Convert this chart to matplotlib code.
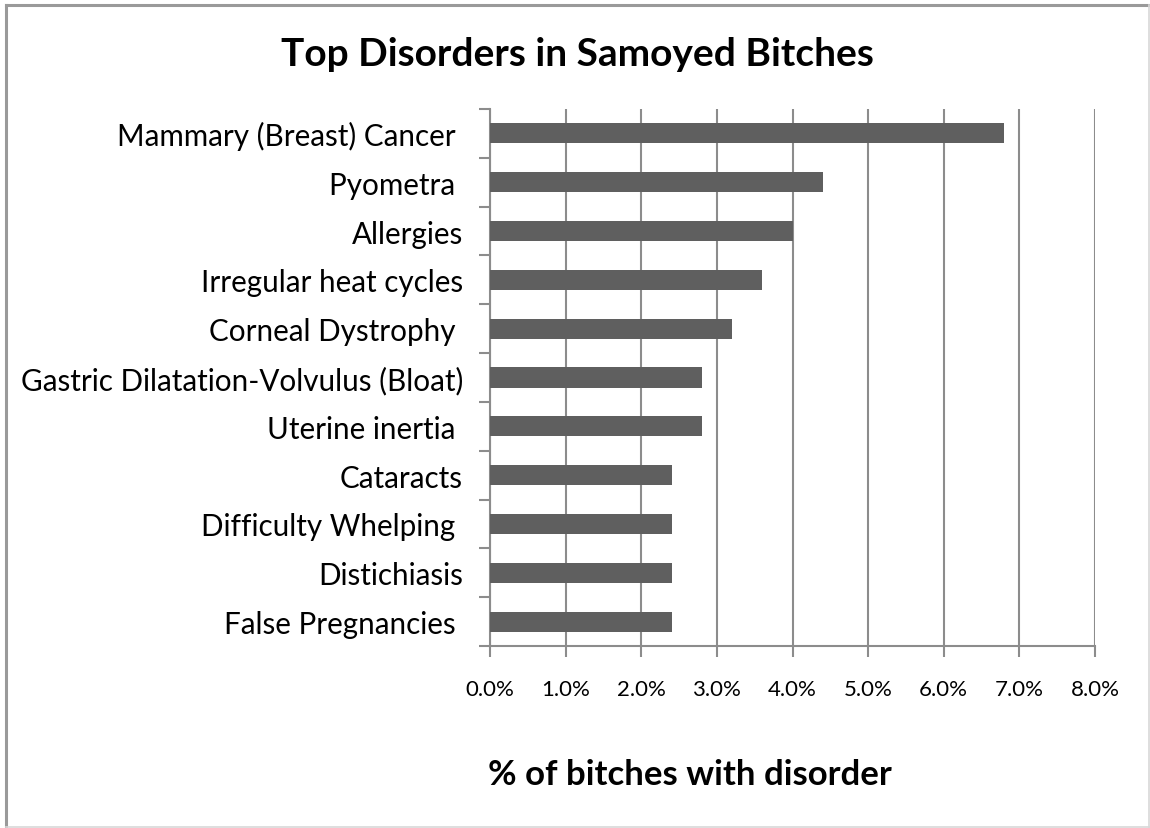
import numpy as np
import matplotlib.pyplot as plt
from matplotlib.lines import Line2D
from matplotlib.ticker import FuncFormatter, FixedLocator

plt.rcParams['font.family'] = ['Lato', 'DejaVu Sans']

# Datos (de arriba hacia abajo)
disorders = ['Mammary (Breast) Cancer ', 'Pyometra ', 'Allergies', 'Irregular heat cycles',
             'Corneal Dystrophy ', 'Gastric Dilatation-Volvulus (Bloat)', 'Uterine inertia ',
             'Cataracts', 'Difficulty Whelping ', 'Distichiasis', 'False Pregnancies ']
percent = [6.8, 4.4, 4.0, 3.6, 3.2, 2.8, 2.8, 2.4, 2.4, 2.4, 2.4]
x_ticks = [0, 1, 2, 3, 4, 5, 6, 7, 8]

fig = plt.figure(figsize=(11.5, 8.29), dpi=100)
ax = fig.add_axes([490 / 1150, 1 - 647 / 829, (1095 - 490) / 1150, (647 - 110) / 829])

# borde del área del gráfico
W, H = 1150, 829
fig.lines.append(Line2D([6 / W, 6 / W], [0, 1 - 6 / H], transform=fig.transFigure,
                        color='#9a9a9a', linewidth=2.2))
fig.lines.append(Line2D([6 / W, 1], [1 - 6 / H, 1 - 6 / H], transform=fig.transFigure,
                        color='#9a9a9a', linewidth=2.2))
fig.lines.append(Line2D([1148.5 / W, 1148.5 / W], [0, 1 - 6 / H], transform=fig.transFigure,
                        color='#d8d8d8', linewidth=1.2))
fig.lines.append(Line2D([6 / W, 1], [1.5 / H, 1.5 / H], transform=fig.transFigure,
                        color='#d8d8d8', linewidth=1.2))

y = np.arange(len(disorders))[::-1]
ax.barh(y, percent, height=0.41, color='#5f5f5f', zorder=3)

ax.set_xlim(0, 8)
ax.set_ylim(-0.5, len(disorders) - 0.5)
ax.xaxis.set_major_locator(FixedLocator(x_ticks))
ax.xaxis.set_major_formatter(FuncFormatter(lambda v, p: f'{v:.1f}%'))
ax.grid(axis='x', color='#8c8c8c', linewidth=1.5, zorder=0)

ax.set_yticks(y)
ax.set_yticklabels(disorders, fontsize=21.3)
ax.set_yticks(np.arange(-0.5, len(disorders)), minor=True)
ax.tick_params(axis='y', which='major', length=0, pad=19.5)
ax.tick_params(axis='y', which='minor', length=8, width=1.5, color='#8c8c8c')
ax.tick_params(axis='x', length=8, width=1.5, color='#8c8c8c', labelsize=16, pad=16)

for s in ['top', 'right']:
    ax.spines[s].set_visible(False)
for s in ['left', 'bottom']:
    ax.spines[s].set_color('#8c8c8c')
    ax.spines[s].set_linewidth(1.5)

fig.text(577 / W, 1 - 55 / H, 'Top Disorders in Samoyed Bitches',
         ha='center', va='center', fontsize=28, fontweight='bold')
fig.text(690 / W, 1 - 775 / H, '% of bitches with disorder',
         ha='center', va='center', fontsize=25, fontweight='bold')

fig.savefig('out.png', dpi=100)
